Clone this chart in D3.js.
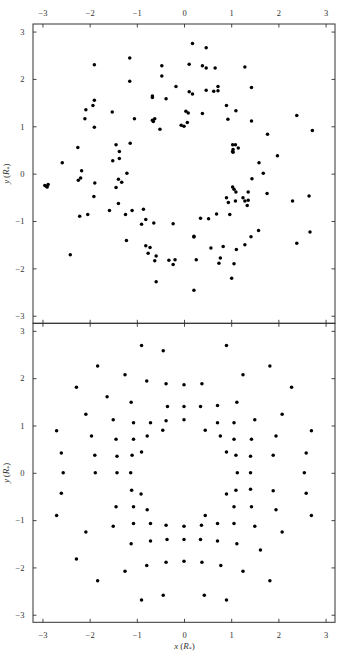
<!DOCTYPE html>
<html><head><meta charset="utf-8">
<script src="https://cdn.jsdelivr.net/npm/d3@7/dist/d3.min.js"></script>
<style>
html,body{margin:0;padding:0;background:#fff;}
svg{display:block;}
text{font-family:"Liberation Serif","Times New Roman",serif;fill:#333;}
</style></head>
<body>
<svg id="chart" width="338" height="652"></svg>
<script>
// Top panel (observed positions)
const topX = [0.18,0.47,-1.90,-1.15,-0.47,0.11,0.39,0.47,0.66,1.29,
 -1.15,-0.47,-0.17,0.11,0.18,0.47,0.63,0.72,0.72,1.43,
 -0.67,-0.67,-0.38,-1.90,-1.93,-2.08,-1.52,0.04,0.09,0.39,0.90,1.10,2.39,
 -2.10,-1.05,-0.67,-0.62,-0.65,0.93,1.43,-1.90,-0.51,-0.06,0.00,0.07,1.77,2.72,
 -2.25,-1.44,-1.14,-1.37,-1.51,-1.37,-2.58,
 1.03,1.09,1.04,1.03,1.04,1.15,
 1.98,1.59,-2.17,-1.21,1.68,
 -2.95,-2.91,-2.88,-2.90,
 -2.24,-2.19,-1.89,-1.39,-1.32,-1.44,1.44,-1.91,
 1.03,1.06,1.10,1.09,0.90,0.94,0.97,
 1.25,1.36,1.29,1.36,1.34,
 1.76,2.30,2.65,-1.39,
 -2.21,-2.04,-1.58,-1.24,-1.10,-0.86,-0.81,
 0.35,0.52,0.69,
 -2.41,-0.90,-0.64,-0.23,-1.22,-0.81,-0.72,-0.76,-0.59,-0.62,-0.59,-0.32,-0.23,-0.19,0.21,0.21,0.26,0.21,0.57,0.83,0.77,0.74,1.06,1.01,1.11,1.29,1.42,1.58,2.39,2.67];
const topY = [2.75,2.66,2.30,2.44,2.28,2.31,2.28,2.23,2.23,2.25,
 1.95,2.06,1.84,1.73,1.68,1.76,1.74,1.84,1.75,1.82,
 1.64,1.61,1.58,1.55,1.44,1.35,1.30,1.32,1.28,1.27,1.44,1.33,1.23,
 1.16,1.16,1.13,1.16,1.10,1.15,1.11,0.98,0.94,1.02,1.00,1.08,0.83,0.91,
 0.55,0.61,0.64,0.47,0.27,0.32,0.23,
 0.61,0.61,0.51,0.47,0.45,0.54,
 0.38,0.23,0.06,0.01,0.01,
 -0.25,-0.27,-0.23,-0.28,
 -0.14,-0.09,-0.20,-0.12,-0.18,-0.29,-0.11,-0.48,
 -0.28,-0.33,-0.39,-0.58,-0.51,-0.61,-0.86,
 -0.51,-0.39,-0.58,-0.56,-0.67,
 -0.42,-0.58,-0.47,-0.63,
 -0.90,-0.86,-0.78,-0.86,-0.78,-0.75,-0.97,
 -0.94,-0.95,-0.85,
 -1.71,-1.07,-1.04,-1.06,-1.41,-1.52,-1.56,-1.68,-1.74,-1.84,-2.28,-1.83,-1.92,-1.82,-1.32,-1.34,-1.82,-2.46,-1.57,-1.54,-1.78,-1.89,-1.90,-2.21,-1.60,-1.50,-1.33,-1.20,-1.47,-1.23];

// Bottom panel (regular pattern)
const botX = [-0.90,-0.44,0.90,-1.83,1.82,-1.25,1.25,-0.79,-0.38,0.00,0.38,-2.28,2.28,-1.63,-1.12,1.12,-0.35,0.00,0.35,0.71,
 -2.08,2.08,-1.50,-1.07,-0.71,-0.38,0.00,0.71,1.06,1.50,
 -2.70,2.70,-1.96,1.95,-1.44,-1.07,-0.78,-0.45,0.45,0.77,1.06,1.43,
 -2.60,2.59,-1.89,1.89,-1.42,-1.10,-0.90,0.90,1.10,1.41,
 -2.56,-1.88,-1.42,-1.13,1.13,1.41,2.55,
 -2.60,2.59,-1.11,-0.91,0.90,1.10,1.41,1.89,
 -1.44,-1.07,-0.78,0.45,1.06,1.43,1.95,-2.70,2.70,
 -1.50,-1.07,-0.71,-0.38,0.00,0.37,0.71,1.06,1.50,-2.08,2.08,
 -1.12,-0.71,-0.36,0.00,0.35,0.71,1.12,1.62,
 -2.28,-0.79,-0.38,0.00,0.38,0.78,-1.25,1.25,-1.83,1.82,
 -0.90,-0.44,0.43,0.90];
const botY = [2.69,2.58,2.69,2.26,2.26,2.07,2.07,1.94,1.88,1.86,1.88,1.81,1.81,1.61,1.49,1.49,1.40,1.40,1.40,1.42,
 1.24,1.24,1.12,1.06,1.06,1.10,1.12,1.06,1.06,1.12,
 0.89,0.89,0.78,0.78,0.71,0.71,0.78,0.90,0.90,0.78,0.71,0.71,
 0.42,0.42,0.37,0.37,0.35,0.37,0.44,0.44,0.37,0.35,
 0.00,0.00,0.00,0.00,0.00,0.00,0.00,
 -0.43,-0.43,-0.37,-0.45,-0.45,-0.37,-0.35,-0.38,
 -0.72,-0.72,-0.78,-0.90,-0.72,-0.72,-0.78,-0.90,-0.90,
 -1.13,-1.07,-1.07,-1.11,-1.13,-1.11,-1.07,-1.07,-1.13,-1.25,-1.25,
 -1.50,-1.44,-1.41,-1.41,-1.41,-1.44,-1.50,-1.63,
 -1.82,-1.96,-1.89,-1.87,-1.89,-1.96,-2.08,-2.08,-2.28,-2.28,
 -2.69,-2.59,-2.59,-2.69];

const tickVals = [-3,-2,-1,0,1,2,3];
const xDomain = [-3.2, 3.2];
const yDomain = [-3.16, 3.16];

const svg = d3.select("#chart");
const left = 33, right = 335;
const panels = [
  {top: 24, bottom: 323.3, xs: topX, ys: topY, topLabels: true},
  {top: 323.3, bottom: 622.3, xs: botX, ys: botY, topLabels: false}
];
const x = d3.scaleLinear().domain(xDomain).range([left, right]);
const fmt = d3.format("d");
const tickLen = 3.5;
const fs = 8.5;

panels.forEach((p, i) => {
  const y = d3.scaleLinear().domain(yDomain).range([p.bottom, p.top]);
  const g = svg.append("g");
  // points
  g.append("g").selectAll("circle")
    .data(p.xs.map((v, k) => [v, p.ys[k]]))
    .join("circle")
    .attr("cx", d => x(d[0])).attr("cy", d => y(d[1]))
    .attr("r", 1.75).attr("fill", "#000");

  // axes with inward ticks
  const axB = d3.axisBottom(x).tickValues(tickVals).tickSize(tickLen).tickFormat(p.topLabels ? "" : fmt).tickPadding(6);
  const axT = d3.axisTop(x).tickValues(tickVals).tickSize(tickLen).tickFormat(p.topLabels ? fmt : "").tickPadding(5);
  const axL = d3.axisLeft(y).tickValues(tickVals).tickSize(tickLen).tickFormat(fmt).tickPadding(5);
  const axR = d3.axisRight(y).tickValues(tickVals).tickSize(tickLen).tickFormat("");

  function style(sel, dir) {
    sel.select(".domain").remove();
    sel.selectAll(".tick line").attr("stroke", "#333").attr("stroke-width", 0.9);
    sel.selectAll(".tick text").attr("font-size", fs).attr("fill", "#333")
      .style("font-family", '"Liberation Serif", serif');
  }
  // bottom axis: ticks point up (inward)
  const gb = g.append("g").attr("transform", `translate(0,${p.bottom})`).call(axB);
  gb.selectAll(".tick line").attr("y2", -tickLen);
  style(gb);
  const gt = g.append("g").attr("transform", `translate(0,${p.top})`).call(axT);
  gt.selectAll(".tick line").attr("y2", tickLen);
  style(gt);
  const gl = g.append("g").attr("transform", `translate(${left},0)`).call(axL);
  gl.selectAll(".tick line").attr("x2", tickLen);
  style(gl);
  const gr = g.append("g").attr("transform", `translate(${right},0)`).call(axR);
  gr.selectAll(".tick line").attr("x2", -tickLen);
  style(gr);

  // frame
  g.append("rect").attr("x", left).attr("y", p.top)
    .attr("width", right - left).attr("height", p.bottom - p.top)
    .attr("fill", "none").attr("stroke", "#333").attr("stroke-width", 1);

  // y label
  const cy = (p.top + p.bottom) / 2;
  const yl = g.append("text")
    .attr("transform", `translate(9,${cy}) rotate(-90)`)
    .attr("text-anchor", "middle").attr("font-size", 9).attr("fill", "#444");
  yl.append("tspan").attr("font-style", "italic").text("y");
  yl.append("tspan").text("\u2009(");
  yl.append("tspan").attr("font-style", "italic").text("R");
  yl.append("tspan").attr("font-size", 6).attr("dy", 2).text("*");
  yl.append("tspan").attr("dy", -2).text(")");
});

// x label
const xl = svg.append("text")
  .attr("x", (left + right) / 2 + 0.5).attr("y", 649)
  .attr("text-anchor", "middle").attr("font-size", 9).attr("fill", "#444");
xl.append("tspan").attr("font-style", "italic").text("x");
xl.append("tspan").text("\u2009(");
xl.append("tspan").attr("font-style", "italic").text("R");
xl.append("tspan").attr("font-size", 6).attr("dy", 2).text("*");
xl.append("tspan").attr("dy", -2).text(")");
</script>
</body></html>
